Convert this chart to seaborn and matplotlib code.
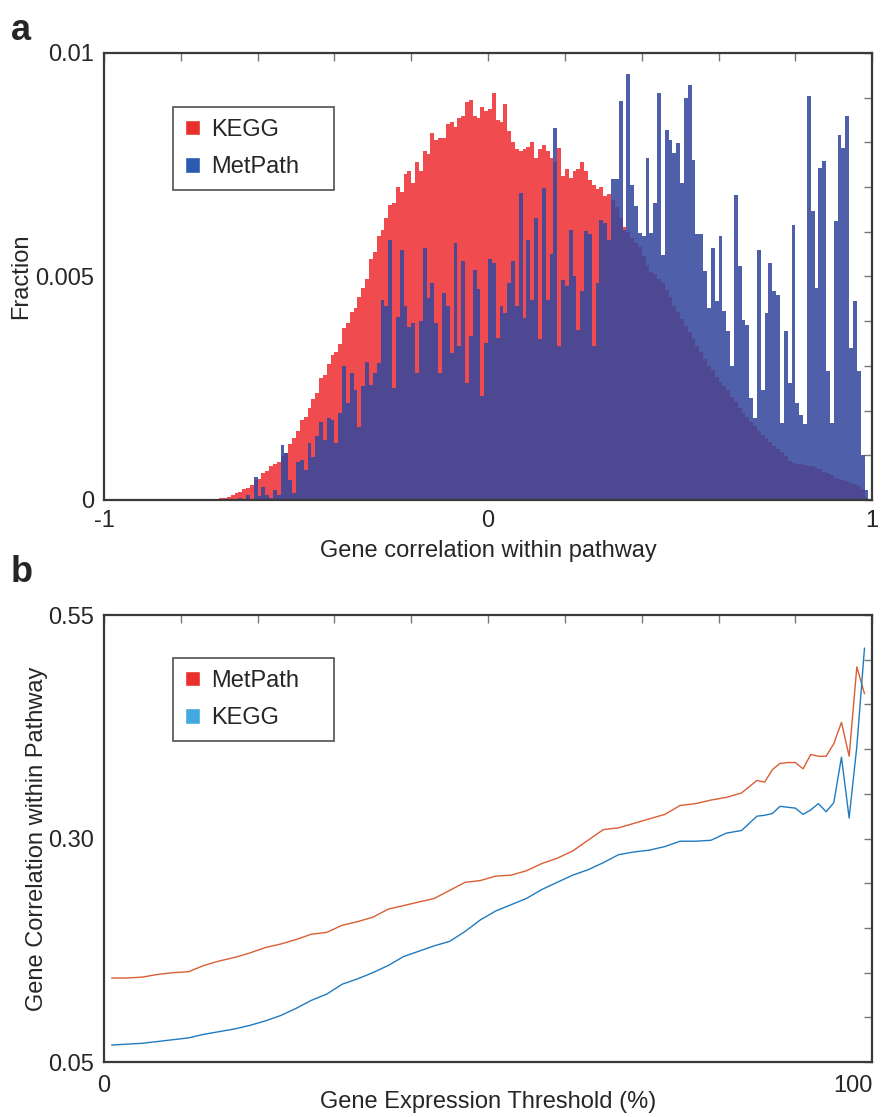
import numpy as np
import pandas as pd
import matplotlib
matplotlib.use("Agg")
import matplotlib.pyplot as plt
from matplotlib.patches import Patch
import seaborn as sns

# =========================
# Data
# =========================
# panel a: histogram bins of width 0.01, left edges -0.75 ... 0.99
bin_left = np.round(np.arange(-0.75, 0.995, 0.01), 2)

# KEGG fraction per bin (x 1e-3)
kegg_frac = [
    0.0, 0.01, 0.02, 0.02, 0.03, 0.04, 0.05, 0.06, 0.10, 0.15,
    0.18, 0.24, 0.27, 0.34, 0.45, 0.48, 0.60, 0.64, 0.75, 0.80,
    0.84, 0.98, 1.05, 1.25, 1.38, 1.55, 1.80, 1.85, 2.05, 2.25,
    2.40, 2.72, 2.80, 3.05, 3.25, 3.30, 3.50, 3.85, 3.95, 4.20,
    4.30, 4.55, 4.75, 4.95, 5.40, 5.55, 5.90, 6.05, 6.30, 6.60,
    6.65, 7.00, 6.90, 7.30, 7.35, 7.10, 7.55, 7.35, 7.80, 7.75,
    8.20, 8.05, 8.10, 8.10, 8.40, 8.45, 8.35, 8.55, 8.60, 8.90,
    8.95, 8.60, 8.55, 8.80, 8.70, 8.75, 9.10, 8.50, 8.45, 8.85,
    8.25, 8.00, 7.85, 7.80, 7.85, 7.90, 8.00, 7.65, 7.85, 7.95,
    7.80, 7.65, 7.55, 7.87, 7.25, 7.40, 7.20, 7.35, 7.40, 7.55,
    7.35, 7.15, 7.05, 6.95, 7.00, 6.80, 6.85, 6.70, 6.55, 6.30,
    6.10, 6.00, 5.85, 5.75, 5.65, 5.45, 5.25, 5.10, 5.05, 4.95,
    4.85, 4.70, 4.55, 4.35, 4.20, 4.05, 3.90, 3.75, 3.60, 3.45,
    3.30, 3.15, 3.00, 2.90, 2.75, 2.65, 2.55, 2.45, 2.30, 2.20,
    2.05, 1.95, 1.85, 1.75, 1.65, 1.55, 1.45, 1.38, 1.30, 1.20,
    1.15, 1.08, 0.98, 0.88, 0.82, 0.80, 0.80, 0.78, 0.75, 0.76,
    0.72, 0.70, 0.62, 0.60, 0.55, 0.50, 0.47, 0.45, 0.42, 0.38,
    0.35, 0.32, 0.25, 0.04, 0.0,
]

# MetPath fraction per bin (x 1e-3)
metpath_frac = [
    0.0, 0.0, 0.0, 0.0, 0.0, 0.02, 0.0, 0.0, 0.0, 0.0,
    0.04, 0.0, 0.11, 0.0, 0.52, 0.08, 0.30, 0.11, 0.05, 0.22,
    0.10, 1.23, 1.04, 0.45, 0.15, 0.86, 0.89, 0.67, 1.27, 0.97,
    1.42, 1.75, 1.34, 1.83, 1.79, 1.27, 1.94, 2.99, 2.16, 2.83,
    2.46, 1.64, 2.54, 3.09, 2.57, 2.84, 3.06, 4.48, 4.33, 5.82,
    2.50, 4.10, 5.59, 4.33, 3.88, 3.95, 2.83, 4.00, 5.63, 4.51,
    4.85, 3.96, 2.84, 4.63, 4.33, 3.29, 5.75, 3.44, 5.34, 2.62,
    3.66, 5.15, 4.71, 2.32, 3.51, 5.38, 5.30, 3.62, 4.33, 4.18,
    4.85, 5.34, 4.33, 6.87, 4.07, 5.82, 4.48, 6.31, 3.59, 6.98,
    4.48, 5.50, 8.32, 3.44, 4.93, 4.78, 6.05, 5.00, 3.81, 4.67,
    6.01, 5.94, 3.44, 4.85, 6.27, 6.20, 5.82, 7.17, 7.17, 8.92,
    6.05, 9.52, 7.05, 6.57, 5.97, 5.90, 7.65, 5.97, 6.64, 9.11,
    5.49, 8.28, 8.06, 7.76, 7.99, 7.09, 8.99, 9.29, 7.61, 5.94,
    5.94, 5.12, 4.30, 5.64, 4.44, 5.90, 4.22, 3.77, 2.99, 6.83,
    5.23, 4.03, 3.92, 2.28, 1.83, 5.60, 2.47, 4.18, 5.30, 4.67,
    4.59, 1.72, 3.77, 2.62, 6.16, 2.17, 1.91, 1.69, 9.03, 6.46,
    4.74, 7.43, 7.58, 2.88, 1.72, 6.23, 8.17, 7.87, 8.58, 3.40,
    4.44, 2.88, 1.01, 0.23, 0.0,
]

# panel b: correlation vs expression threshold
threshold_pct = [1, 3, 5, 7, 9, 11, 13, 15, 17, 19, 21, 23, 25, 27, 29, 31, 33, 35,
                 37, 39, 41, 43, 45, 47, 49, 51, 53, 55, 57, 59, 61, 63, 65, 67, 69,
                 71, 73, 75, 77, 79, 81, 83,
                 85, 86, 87, 88, 89, 90, 91, 92, 93, 94, 95, 96, 97, 98, 99]
metpath_corr = [0.144, 0.144, 0.145, 0.148, 0.150, 0.151, 0.158, 0.163, 0.167, 0.172,
                0.178, 0.182, 0.187, 0.193, 0.195, 0.203, 0.207, 0.212, 0.221, 0.225,
                0.229, 0.233, 0.242, 0.251, 0.253, 0.258, 0.259, 0.264, 0.272, 0.278,
                0.286, 0.298, 0.310, 0.312, 0.317, 0.322, 0.327, 0.337, 0.339, 0.343,
                0.346, 0.351,
                0.365, 0.363, 0.377, 0.384, 0.385, 0.385, 0.378, 0.394, 0.392, 0.392,
                0.406, 0.430, 0.392, 0.492, 0.462]
kegg_corr = [0.069, 0.070, 0.071, 0.073, 0.075, 0.077, 0.081, 0.084, 0.087, 0.091,
             0.096, 0.102, 0.110, 0.119, 0.126, 0.137, 0.143, 0.150, 0.158, 0.168,
             0.174, 0.180, 0.185, 0.196, 0.209, 0.219, 0.226, 0.233, 0.243, 0.251,
             0.259, 0.265, 0.273, 0.282, 0.285, 0.287, 0.291, 0.297, 0.297, 0.298,
             0.306, 0.309,
             0.325, 0.326, 0.328, 0.336, 0.335, 0.334, 0.327, 0.332, 0.339, 0.330,
             0.340, 0.391, 0.323, 0.403, 0.513]

# =========================
# Style
# =========================
sns.set_theme(style="white")
plt.rcParams['font.family'] = ['Liberation Sans', 'DejaVu Sans']
FS = 17
SPINE = "#3a3a3a"

KEGG_BAR = "#F04C4F"
MET_BAR = "#36479D"
KEGG_PATCH = "#E8302A"
MET_PATCH = "#2A5BB0"
LINE_MET = "#D95F35"
LINE_KEGG = "#1F7BC0"
PATCH_B_MET = "#E8302A"
PATCH_B_KEGG = "#42A8E0"


def style_axes(ax):
    for s in ax.spines.values():
        s.set_color(SPINE)
        s.set_linewidth(1.6)
        s.set_visible(True)
    ax.tick_params(direction="in", length=6, width=1.0, color="#777777",
                   top=True, right=True, labelsize=FS, pad=7)
    ax.grid(False)


def square_legend(ax, labels, colors, top):
    leg = ax.legend(handles=[Patch(facecolor=c, label=l) for l, c in zip(labels, colors)],
                    loc="upper left", bbox_to_anchor=(0.09, 0.0, 0.21, top), mode="expand",
                    borderaxespad=0, fontsize=FS, frameon=True, fancybox=False,
                    handlelength=0.65, handleheight=0.65, handletextpad=0.45,
                    labelspacing=0.65, borderpad=0.5)
    leg.get_frame().set_edgecolor("#222222")
    leg.get_frame().set_linewidth(1.2)
    return leg


fig = plt.figure(figsize=(8.81, 11.17), dpi=100)

# =========================
# Panel a: histograms
# =========================
ax1 = fig.add_axes([0.118, 0.5524, 0.872, 0.4002])
hist_df = pd.DataFrame({
    "center": bin_left + 0.005,
    "kegg": np.array(kegg_frac) * 1e-3,
    "metpath": np.array(metpath_frac) * 1e-3,
})
for col, c, a in [("kegg", KEGG_BAR, 1.0), ("metpath", MET_BAR, 0.87)]:
    sns.histplot(data=hist_df, x="center", weights=col, binwidth=0.01,
                 binrange=(-0.75, 1.0), ax=ax1, color=c, alpha=a,
                 linewidth=0, stat="count")
ax1.set_xlim(-1, 1)
ax1.set_ylim(0, 0.01)
xt = np.round(np.arange(-1, 1.01, 0.2), 1)
ax1.set_xticks(xt)
ax1.set_xticklabels(["-1" if v == -1 else "0" if v == 0 else "1" if v == 1 else "" for v in xt])
yt = np.round(np.arange(0, 0.0101, 0.001), 3)
ax1.set_yticks(yt)
ax1.set_yticklabels(["0" if v == 0 else "0.005" if v == 0.005 else "0.01" if v == 0.01 else "" for v in yt])
ax1.set_xlabel("Gene correlation within pathway", fontsize=FS, labelpad=6)
ax1.set_ylabel("Fraction", fontsize=FS, labelpad=2)
style_axes(ax1)
square_legend(ax1, ["KEGG", "MetPath"], [KEGG_PATCH, MET_PATCH], 0.879)

# =========================
# Panel b: lines
# =========================
ax2 = fig.add_axes([0.118, 0.0492, 0.872, 0.4002])
sns.lineplot(x=threshold_pct, y=metpath_corr, ax=ax2, color=LINE_MET, linewidth=1.0)
sns.lineplot(x=threshold_pct, y=kegg_corr, ax=ax2, color=LINE_KEGG, linewidth=1.0)
ax2.set_xlim(0, 100)
ax2.set_ylim(0.05, 0.55)
xt2 = np.arange(0, 101, 10)
ax2.set_xticks(xt2)
ax2.set_xticklabels(["0" if v == 0 else "100" if v == 100 else "" for v in xt2])
yt2 = np.round(np.arange(0.05, 0.551, 0.05), 2)
ax2.set_yticks(yt2)
ax2.set_yticklabels(["0.05" if v == 0.05 else "0.30" if v == 0.3 else "0.55" if v == 0.55 else "" for v in yt2])
ax2.set_xlabel("Gene Expression Threshold (%)", fontsize=FS)
ax2.xaxis.set_label_coords(0.5, -0.064)
ax2.set_ylabel("Gene Correlation within Pathway", fontsize=FS, labelpad=0)
style_axes(ax2)
ax2.tick_params(axis="x", pad=9)
ax2.get_xticklabels()[-1].set_ha("right")
square_legend(ax2, ["MetPath", "KEGG"], [PATCH_B_MET, PATCH_B_KEGG], 0.904)

# panel letters
fig.text(0.012, 0.988, "a", fontsize=26, fontweight="bold", va="top", ha="left")
fig.text(0.012, 0.503, "b", fontsize=26, fontweight="bold", va="top", ha="left")

fig.savefig("out.png", dpi=100)
